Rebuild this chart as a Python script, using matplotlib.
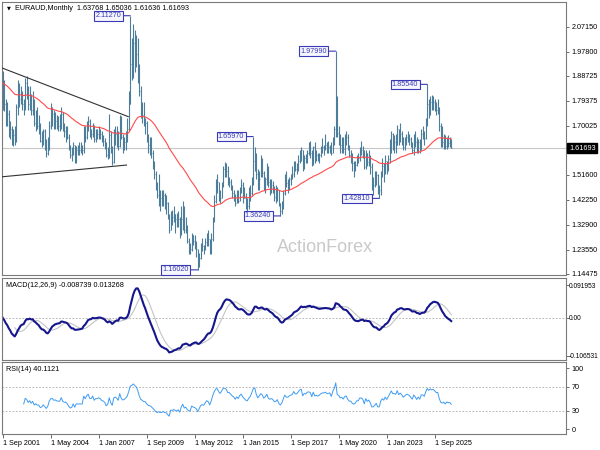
import numpy as np
import pandas as pd
import matplotlib
matplotlib.use("Agg")
import matplotlib.pyplot as plt

# ---------------- data (monthly EURAUD, first bar Sep 2001) ----------------
start_month = "2001-09"

high = [
    1.905, 1.870, 1.800, 1.790,
    1.760, 1.720, 1.700, 1.690, 1.700, 1.780, 1.870, 1.860, 1.850, 1.830, 1.800, 1.880,
    1.885, 1.850, 1.850, 1.820, 1.830, 1.800, 1.760, 1.770, 1.740, 1.710, 1.680, 1.690,
    1.690, 1.650, 1.660, 1.720, 1.785, 1.770, 1.760, 1.750, 1.740, 1.735, 1.745, 1.770,
    1.750, 1.710, 1.700, 1.700, 1.670, 1.630, 1.620, 1.640, 1.630, 1.625, 1.630, 1.640,
    1.640, 1.630, 1.700, 1.700, 1.720, 1.735, 1.725, 1.690, 1.710, 1.705, 1.690, 1.690,
    1.700, 1.690, 1.680, 1.665, 1.655, 1.640, 1.620, 1.745, 1.680, 1.625, 1.690, 1.700,
    1.700, 1.680, 1.740, 1.735, 1.670, 1.660, 1.680, 1.730, 1.830, 2.1127, 2.030, 2.080,
    2.060, 2.040, 2.030, 1.930, 1.850, 1.790, 1.790, 1.730, 1.720, 1.670, 1.660, 1.660,
    1.610, 1.570, 1.530, 1.490, 1.520, 1.460, 1.460, 1.460, 1.450, 1.440, 1.415, 1.370,
    1.380, 1.385, 1.400, 1.370, 1.375, 1.380, 1.360, 1.400, 1.420, 1.400, 1.360, 1.330,
    1.280, 1.260, 1.300, 1.290, 1.290, 1.270, 1.240, 1.225, 1.260, 1.280, 1.255, 1.280,
    1.300, 1.310, 1.275, 1.300, 1.360, 1.440, 1.500, 1.520, 1.490, 1.460, 1.490, 1.550,
    1.565, 1.560, 1.550, 1.510, 1.500, 1.480, 1.460, 1.445, 1.460, 1.460, 1.470, 1.500,
    1.490, 1.470, 1.450, 1.430, 1.470, 1.480, 1.510, 1.6597, 1.620, 1.600, 1.540, 1.530,
    1.590, 1.580, 1.530, 1.510, 1.560, 1.550, 1.500, 1.500, 1.495, 1.475, 1.480, 1.470,
    1.460, 1.410, 1.420, 1.460, 1.520, 1.530, 1.500, 1.510, 1.520, 1.550, 1.570, 1.570,
    1.560, 1.590, 1.610, 1.620, 1.610, 1.590, 1.595, 1.610, 1.640, 1.645, 1.610, 1.625,
    1.640, 1.610, 1.600, 1.600, 1.625, 1.655, 1.630, 1.670, 1.640, 1.645, 1.630, 1.640,
    1.660, 1.700, 1.9799, 1.810, 1.700, 1.670, 1.660, 1.660, 1.670, 1.680, 1.670, 1.630,
    1.610, 1.600, 1.570, 1.570, 1.590, 1.600, 1.620, 1.645, 1.625, 1.610, 1.610, 1.600,
    1.610, 1.590, 1.560, 1.510, 1.530, 1.530, 1.520, 1.480, 1.530, 1.580, 1.560, 1.590,
    1.570, 1.590, 1.650, 1.680, 1.675, 1.665, 1.670, 1.705, 1.690, 1.710, 1.680, 1.660,
    1.660, 1.670, 1.680, 1.670, 1.660, 1.640, 1.670, 1.680, 1.660, 1.650, 1.650, 1.690,
    1.700, 1.680, 1.730, 1.8554, 1.800, 1.810, 1.815, 1.810, 1.800, 1.790, 1.800, 1.770,
    1.710, 1.700, 1.670, 1.665, 1.660, 1.665, 1.660, 1.65036,
]

low = [
    1.760, 1.755, 1.700, 1.700,
    1.660, 1.650, 1.630, 1.625, 1.630, 1.640, 1.740, 1.770, 1.780, 1.760, 1.740, 1.760,
    1.800, 1.760, 1.760, 1.740, 1.740, 1.700, 1.680, 1.690, 1.670, 1.640, 1.620, 1.630,
    1.610, 1.585, 1.590, 1.610, 1.690, 1.700, 1.690, 1.690, 1.690, 1.680, 1.680, 1.690,
    1.680, 1.660, 1.640, 1.650, 1.610, 1.580, 1.570, 1.590, 1.560, 1.560, 1.590, 1.590,
    1.600, 1.590, 1.600, 1.640, 1.650, 1.680, 1.660, 1.650, 1.660, 1.640, 1.640, 1.650,
    1.650, 1.650, 1.640, 1.625, 1.615, 1.585, 1.575, 1.580, 1.600, 1.555, 1.560, 1.630,
    1.620, 1.610, 1.620, 1.650, 1.600, 1.610, 1.610, 1.640, 1.680, 1.780, 1.870, 1.880,
    1.900, 1.920, 1.860, 1.810, 1.730, 1.710, 1.700, 1.670, 1.640, 1.600, 1.590, 1.580,
    1.540, 1.500, 1.460, 1.430, 1.400, 1.380, 1.400, 1.400, 1.390, 1.370, 1.350, 1.300,
    1.310, 1.330, 1.340, 1.300, 1.320, 1.320, 1.280, 1.290, 1.310, 1.300, 1.300, 1.260,
    1.220, 1.220, 1.230, 1.255, 1.240, 1.210, 1.1602, 1.170, 1.200, 1.230, 1.220, 1.235,
    1.250, 1.250, 1.220, 1.220, 1.270, 1.340, 1.410, 1.450, 1.420, 1.410, 1.430, 1.470,
    1.510, 1.510, 1.480, 1.470, 1.460, 1.430, 1.420, 1.400, 1.410, 1.410, 1.420, 1.450,
    1.410, 1.430, 1.390, 1.370, 1.390, 1.420, 1.440, 1.480, 1.530, 1.500, 1.460, 1.460,
    1.510, 1.510, 1.460, 1.450, 1.480, 1.470, 1.440, 1.450, 1.450, 1.420, 1.410, 1.420,
    1.400, 1.3624, 1.370, 1.390, 1.440, 1.470, 1.450, 1.460, 1.480, 1.500, 1.510, 1.530,
    1.520, 1.530, 1.560, 1.570, 1.530, 1.540, 1.560, 1.560, 1.590, 1.580, 1.550, 1.555,
    1.560, 1.570, 1.570, 1.560, 1.585, 1.600, 1.590, 1.610, 1.600, 1.600, 1.600, 1.590,
    1.600, 1.630, 1.660, 1.660, 1.630, 1.600, 1.600, 1.600, 1.590, 1.630, 1.610, 1.585,
    1.560, 1.530, 1.510, 1.530, 1.550, 1.560, 1.570, 1.590, 1.580, 1.540, 1.540, 1.550,
    1.550, 1.520, 1.460, 1.440, 1.470, 1.480, 1.445, 1.4281, 1.440, 1.510, 1.490, 1.520,
    1.520, 1.530, 1.560, 1.600, 1.610, 1.600, 1.600, 1.630, 1.630, 1.640, 1.630, 1.610,
    1.610, 1.630, 1.640, 1.630, 1.620, 1.600, 1.590, 1.620, 1.600, 1.600, 1.600, 1.610,
    1.650, 1.630, 1.650, 1.700, 1.730, 1.740, 1.760, 1.760, 1.755, 1.740, 1.745, 1.680,
    1.620, 1.620, 1.615, 1.615, 1.615, 1.620, 1.620, 1.61636,
]

close = [
    1.860, 1.780, 1.735, 1.745,
    1.690, 1.690, 1.640, 1.665, 1.650, 1.770, 1.810, 1.800, 1.820, 1.780, 1.770, 1.860,
    1.840, 1.780, 1.810, 1.760, 1.790, 1.710, 1.730, 1.700, 1.700, 1.645, 1.650, 1.680,
    1.640, 1.600, 1.625, 1.700, 1.740, 1.745, 1.715, 1.720, 1.705, 1.700, 1.700, 1.745,
    1.695, 1.680, 1.680, 1.660, 1.620, 1.590, 1.595, 1.630, 1.575, 1.610, 1.610, 1.610,
    1.610, 1.610, 1.690, 1.660, 1.700, 1.720, 1.670, 1.670, 1.700, 1.650, 1.670, 1.670,
    1.680, 1.670, 1.650, 1.645, 1.630, 1.590, 1.600, 1.665, 1.605, 1.565, 1.655, 1.670,
    1.655, 1.625, 1.730, 1.660, 1.630, 1.640, 1.660, 1.690, 1.780, 1.930, 1.950, 2.010,
    1.990, 1.970, 1.920, 1.830, 1.760, 1.740, 1.710, 1.710, 1.660, 1.630, 1.620, 1.600,
    1.560, 1.520, 1.475, 1.440, 1.450, 1.430, 1.430, 1.440, 1.410, 1.410, 1.360, 1.310,
    1.370, 1.360, 1.370, 1.350, 1.340, 1.350, 1.300, 1.350, 1.380, 1.310, 1.320, 1.270,
    1.240, 1.240, 1.290, 1.270, 1.260, 1.240, 1.175, 1.205, 1.240, 1.250, 1.240, 1.265,
    1.290, 1.275, 1.230, 1.275, 1.350, 1.420, 1.480, 1.490, 1.450, 1.430, 1.480, 1.540,
    1.540, 1.530, 1.490, 1.490, 1.470, 1.450, 1.440, 1.410, 1.440, 1.420, 1.460, 1.480,
    1.450, 1.430, 1.410, 1.400, 1.430, 1.450, 1.500, 1.570, 1.590, 1.520, 1.470, 1.500,
    1.540, 1.525, 1.480, 1.500, 1.540, 1.490, 1.470, 1.480, 1.470, 1.435, 1.440, 1.460,
    1.410, 1.380, 1.400, 1.450, 1.510, 1.485, 1.480, 1.500, 1.510, 1.520, 1.565, 1.540,
    1.540, 1.570, 1.600, 1.610, 1.545, 1.580, 1.575, 1.600, 1.605, 1.600, 1.560, 1.620,
    1.580, 1.590, 1.580, 1.590, 1.610, 1.620, 1.620, 1.630, 1.620, 1.620, 1.625, 1.600,
    1.650, 1.690, 1.800, 1.675, 1.665, 1.630, 1.640, 1.615, 1.650, 1.660, 1.615, 1.590,
    1.590, 1.560, 1.545, 1.555, 1.580, 1.580, 1.610, 1.610, 1.600, 1.545, 1.600, 1.565,
    1.580, 1.545, 1.480, 1.480, 1.495, 1.515, 1.460, 1.460, 1.520, 1.550, 1.530, 1.570,
    1.540, 1.575, 1.620, 1.670, 1.640, 1.640, 1.630, 1.690, 1.645, 1.670, 1.650, 1.620,
    1.640, 1.660, 1.660, 1.650, 1.630, 1.610, 1.660, 1.640, 1.610, 1.640, 1.615, 1.670,
    1.670, 1.655, 1.720, 1.780, 1.760, 1.790, 1.780, 1.790, 1.775, 1.760, 1.760, 1.700,
    1.650, 1.640, 1.650, 1.625, 1.645, 1.635, 1.63768, 1.61693,
]

title_text = "EURAUD,Monthly  1.63768 1.65036 1.61636 1.61693"
macd_text = "MACD(12,26,9) -0.008739 0.013268"
rsi_text = "RSI(14) 40.1121"
watermark = "ActionForex"

price_ticks = [2.07150, 1.97800, 1.88725, 1.79375, 1.70025,
               1.51600, 1.42250, 1.32900, 1.23550, 1.14475]
last_price = 1.61693
macd_ticks = [0.091953, 0.0, -0.106531]
macd_tick_labels = ["0.091953", "0.00", "-0.106531"]
rsi_ticks = [100, 70, 30, 0]
rsi_levels = [70, 30]

date_labels = ["1 Sep 2001", "1 May 2004", "1 Jan 2007", "1 Sep 2009", "1 May 2012",
               "1 Jan 2015", "1 Sep 2017", "1 May 2020", "1 Jan 2023", "1 Sep 2025"]

high_marks_month = ["2008-10", "2015-08", "2020-03", "2025-04"]
high_marks_value = [2.11270, 1.65970, 1.97990, 1.85540]
low_marks_month = ["2012-07", "2017-02", "2022-08"]
low_marks_value = [1.16020, 1.36240, 1.42810]

# trend lines (bar index, price)
upper_trend_idx = [-0.5, 83.7]
upper_trend_val = [1.917, 1.7345]
lower_trend_idx = [-0.5, 82.5]
lower_trend_val = [1.509, 1.553]

# ---------------- indicators (MT4 style) ----------------
c = np.array(close, dtype=float)
h = np.array(high, dtype=float)
l = np.array(low, dtype=float)
n = len(c)
idx = np.arange(n)
months = pd.period_range(start_month, periods=n, freq="M")


def ema(x, period):
    a = 2.0 / (period + 1)
    out = np.empty_like(x)
    out[0] = x[0]
    for i in range(1, len(x)):
        out[i] = out[i - 1] + a * (x[i] - out[i - 1])
    return out


ma55 = ema(c, 55)
macd = ema(c, 12) - ema(c, 26)
signal = pd.Series(macd).rolling(9).mean().to_numpy()

period = 14
d = np.diff(c)
g = np.where(d > 0, d, 0.0)
lo = np.where(d < 0, -d, 0.0)
rsi = np.full(n, np.nan)
ag = g[:period].mean()
al = lo[:period].mean()
rsi[period] = 100 - 100 / (1 + ag / al) if al > 0 else 100
for i in range(period + 1, n):
    ag = (ag * (period - 1) + g[i - 1]) / period
    al = (al * (period - 1) + lo[i - 1]) / period
    rsi[i] = 100 - 100 / (1 + ag / al) if al > 0 else 100

# ---------------- figure ----------------
FONT = ["Liberation Sans", "DejaVu Sans"]
plt.rcParams["font.family"] = FONT
FS = 5.2
W, H = 600, 450
fig = plt.figure(figsize=(6, 4.5), dpi=100)
fig.patch.set_facecolor("white")


def rect(x0, y0, x1, y1):
    return [x0 / W, 1 - y1 / H, (x1 - x0) / W, (y1 - y0) / H]


ax = fig.add_axes(rect(2, 2, 566, 275))
axm = fig.add_axes(rect(2, 278.3, 566, 360))
axr = fig.add_axes(rect(2, 362.3, 566, 434))

XL = (-0.47, 375.5)
SPINE = "#7A7A7A"
for a in (ax, axm, axr):
    a.set_xlim(*XL)
    for s in a.spines.values():
        s.set_color(SPINE)
        s.set_linewidth(0.8)
    a.yaxis.tick_right()
    a.tick_params(axis="y", direction="out", length=2.5, width=0.6, pad=1.5,
                  labelsize=FS, colors="#555555", labelcolor="black")
    a.tick_params(axis="x", bottom=False, labelbottom=False)

# ---- main panel ----
BAR = "#4C7D9B"
ax.set_ylim(1.141, 2.1641)
ax.axhline(last_price, color="#C8C8C8", lw=0.8, zorder=1)
ax.vlines(idx, l, h, color=BAR, lw=0.8, zorder=3)
ax.hlines(c, idx, idx + 0.55, color=BAR, lw=0.6, zorder=3)
ax.plot(idx, ma55, color="#FF4A4A", lw=0.8, zorder=4)
ax.plot(upper_trend_idx, upper_trend_val, color="#333333", lw=0.8, zorder=4)
ax.plot(lower_trend_idx, lower_trend_val, color="#333333", lw=0.8, zorder=4)

ax.set_yticks(price_ticks)
ax.set_yticklabels([f"{v:.5f}" for v in price_ticks])

ax.annotate(f"{last_price:.5f}", xy=(1, last_price), xycoords=("axes fraction", "data"),
            xytext=(3, 0), textcoords="offset pixels", ha="left", va="center",
            fontsize=FS, color="white",
            bbox=dict(boxstyle="square,pad=0.25", fc="black", ec="black"), zorder=6,
            annotation_clip=False)

LBL = "#3A3AB4"
for mstr, val in list(zip(high_marks_month, high_marks_value)) + \
        list(zip(low_marks_month, low_marks_value)):
    xi = months.get_loc(pd.Period(mstr, "M"))
    ax.annotate(f"{val:.5f}", xy=(xi, val), xytext=(-9, 0), textcoords="offset pixels",
                ha="right", va="center", fontsize=FS, color=LBL,
                bbox=dict(boxstyle="square,pad=0.18", fc="#F6F6FF", ec=LBL, lw=0.8),
                arrowprops=dict(arrowstyle="-", color=LBL, lw=0.8, shrinkA=0, shrinkB=0),
                zorder=7)

ax.text(5 / 564, 1 - 3.5 / 273, "\u25BC", transform=ax.transAxes, fontsize=3.6,
        family="DejaVu Sans", va="top", ha="left", color="black")
ax.text(13 / 564, 1 - 3 / 273, title_text, transform=ax.transAxes, fontsize=FS,
        va="top", ha="left", color="black")

fig.text(325 / W, 1 - 248 / H, watermark, color="#C9C9C9", fontsize=13,
         ha="center", va="center")

# ---- MACD panel ----
axm.set_ylim(-0.1186, 0.1108)
axm.axhline(0, color="#A8A8A8", lw=0.6, ls=(0, (2, 2)))
axm.plot(idx, signal, color="#C4C4C4", lw=0.8)
axm.plot(idx, macd, color="#16168C", lw=1.5)
axm.set_yticks(macd_ticks)
axm.set_yticklabels(macd_tick_labels)
axm.tick_params(axis="y", length=2.0, pad=0.3, labelsize=4.8)
axm.text(4 / 564, 1 - 3.5 / 81.7, macd_text, transform=axm.transAxes, fontsize=FS,
         va="top", ha="left", color="black")

# ---- RSI panel ----
axr.set_ylim(-8.2, 109.9)
for lv in rsi_levels:
    axr.axhline(lv, color="#A8A8A8", lw=0.6, ls=(0, (2, 2)))
axr.plot(idx, rsi, color="#3F9CF2", lw=0.7)
axr.set_yticks(rsi_ticks)
axr.set_yticklabels([str(v) for v in rsi_ticks])
axr.text(4 / 564, 1 - 4 / 71.7, rsi_text, transform=axr.transAxes, fontsize=FS,
         va="top", ha="left", color="black")

tick_pos = [months.get_loc(pd.Period(pd.to_datetime(s), "M")) for s in date_labels]
axr.tick_params(axis="x", bottom=True, labelbottom=True, direction="out", length=3,
                width=0.6, pad=1.5, labelsize=FS, colors="#555555", labelcolor="black")
axr.set_xticks(tick_pos)
axr.set_xticklabels(date_labels, ha="left")

fig.savefig("out.png", dpi=100, facecolor="white")
